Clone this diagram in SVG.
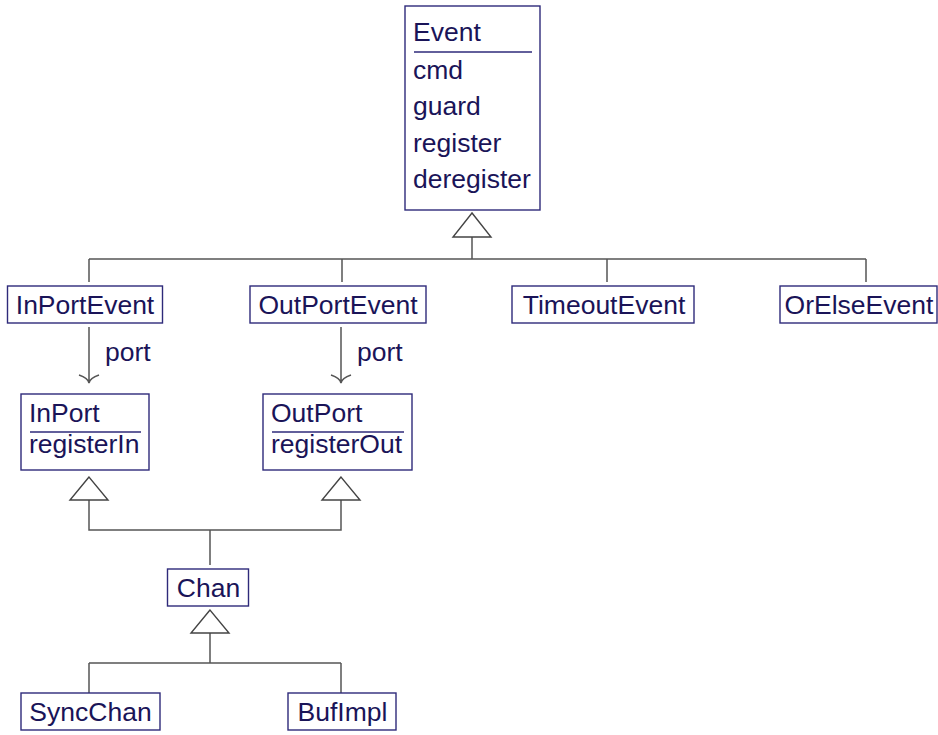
<svg xmlns="http://www.w3.org/2000/svg" width="938" height="735" viewBox="0 0 938 735">
<style>
.box{fill:#fff;stroke:#2e2a7a;stroke-width:1.4}
.t{font-family:"Liberation Sans",Arial,sans-serif;font-size:26.5px;fill:#1a1458}
.c{text-anchor:middle}
.sep{stroke:#2e2a7a;stroke-width:1.4}
.ln{fill:none;stroke:#555;stroke-width:1.5}
.tri{fill:#fff;stroke:#444;stroke-width:1.4}
</style>
<rect width="938" height="735" fill="#fff"/>
<g id="connectors">
<path class="ln" d="M472,237V259M89,259H866M89,259V282M342,259V282M607,259V282M866,259V282"/>
<polygon class="tri" points="472,213 453,237 491,237"/>
<path class="ln" d="M89,327V383M79,375Q88,378 89,383Q90,378 99,375"/>
<path class="ln" d="M341,327V383M331,375Q340,378 341,383Q342,378 351,375"/>
<text class="t" x="105" y="361">port</text>
<text class="t" x="357" y="361">port</text>
<path class="ln" d="M89,500V530H341V500M210,530V565"/>
<polygon class="tri" points="89,477 70,500 108,500"/>
<polygon class="tri" points="341,477 322,500 360,500"/>
<path class="ln" d="M210,633V663M89,663H341M89,663V693M341,663V693"/>
<polygon class="tri" points="210,610 191,633 229,633"/>
</g>
<g id="Event">
<rect class="box" x="405" y="6" width="135" height="204"/>
<text class="t" x="413" y="41">Event</text>
<line class="sep" x1="414" y1="52" x2="532" y2="52"/>
<text class="t" x="413" y="79">cmd</text>
<text class="t" x="413" y="115">guard</text>
<text class="t" x="413" y="152">register</text>
<text class="t" x="413" y="188">deregister</text>
</g>
<g id="InPortEvent">
<rect class="box" x="7.5" y="286" width="155" height="37"/>
<text class="t c" x="85" y="314">InPortEvent</text>
</g>
<g id="OutPortEvent">
<rect class="box" x="250" y="286" width="176" height="37"/>
<text class="t c" x="338" y="314">OutPortEvent</text>
</g>
<g id="TimeoutEvent">
<rect class="box" x="512" y="286" width="182" height="37"/>
<text class="t c" x="604" y="314">TimeoutEvent</text>
</g>
<g id="OrElseEvent">
<rect class="box" x="780" y="286" width="157" height="37"/>
<text class="t c" x="859" y="314">OrElseEvent</text>
</g>
<g id="InPort">
<rect class="box" x="21" y="394" width="128" height="76"/>
<text class="t" x="29" y="422">InPort</text>
<line class="sep" x1="30" y1="432" x2="141" y2="432"/>
<text class="t" x="29" y="453">registerIn</text>
</g>
<g id="OutPort">
<rect class="box" x="263" y="394" width="149" height="76"/>
<text class="t" x="271" y="422">OutPort</text>
<line class="sep" x1="272" y1="432" x2="404" y2="432"/>
<text class="t" x="271" y="453">registerOut</text>
</g>
<g id="Chan">
<rect class="box" x="167.5" y="569" width="81" height="37"/>
<text class="t c" x="208.5" y="597">Chan</text>
</g>
<g id="SyncChan">
<rect class="box" x="21" y="693" width="139" height="37"/>
<text class="t c" x="90.5" y="721">SyncChan</text>
</g>
<g id="BufImpl">
<rect class="box" x="288" y="693" width="108" height="37"/>
<text class="t c" x="342.5" y="721">BufImpl</text>
</g>
</svg>
